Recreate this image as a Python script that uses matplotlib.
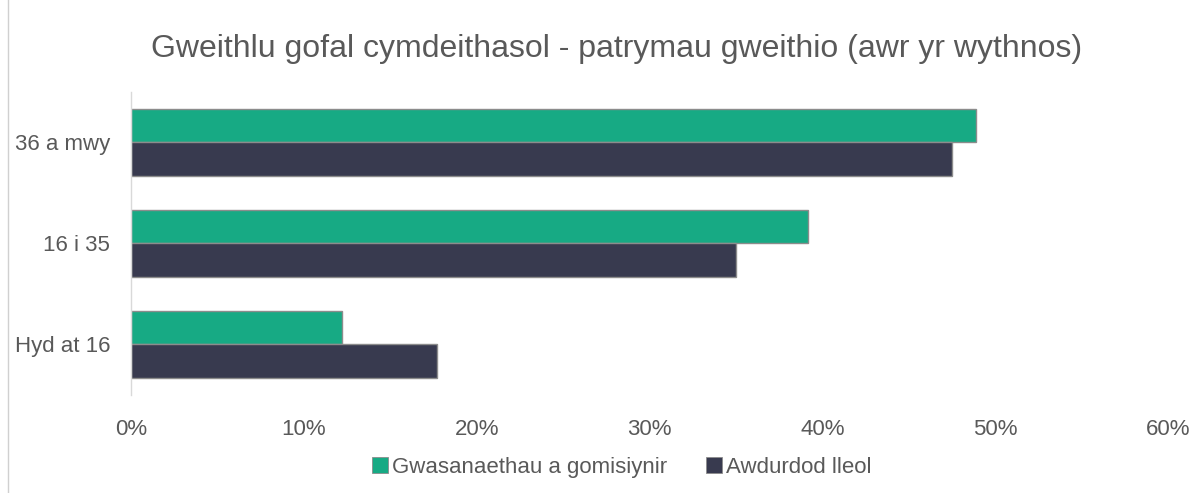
import matplotlib
matplotlib.use('Agg')
import matplotlib.pyplot as plt
from matplotlib.lines import Line2D
import numpy as np

categories = ['Hyd at 16', '16 i 35', '36 a mwy']
gwasanaethau = [12.2, 39.2, 48.9]
awdurdod = [17.7, 35.0, 47.5]
series_names = ['Gwasanaethau a gomisiynir', 'Awdurdod lleol']
xticks = [0, 10, 20, 30, 40, 50, 60]

green = '#17AA84'
dark = '#383A4F'
text_col = '#595959'

plt.rcParams['font.family'] = ['Liberation Sans', 'DejaVu Sans']

fig = plt.figure(figsize=(11.93, 4.93), dpi=100)
ax = fig.add_axes([0.1098, 0.1988, 0.8692, 0.6146])

y = np.arange(len(categories))
h = 0.335
ax.barh(y + h / 2, gwasanaethau, height=h, color=green, edgecolor='#8c8c8c', linewidth=1.0, label=series_names[0])
ax.barh(y - h / 2, awdurdod, height=h, color=dark, edgecolor='#8c8c8c', linewidth=1.0, label=series_names[1])

ax.set_xlim(0, 60)
ax.set_ylim(-0.5, 2.5)
ax.set_yticks(y)
ax.set_yticklabels(categories, fontsize=16, color=text_col)
ax.set_xticks(xticks)
ax.set_xticklabels([f'{t}%' for t in xticks], fontsize=16, color=text_col)
ax.tick_params(axis='both', length=0)
ax.tick_params(axis='x', pad=17)
ax.tick_params(axis='y', pad=15)

for s in ['top', 'right', 'bottom']:
    ax.spines[s].set_visible(False)
ax.spines['left'].set_color('#d9d9d9')
ax.spines['left'].set_linewidth(1.0)

fig.text(0.517, 0.90, 'Gweithlu gofal cymdeithasol - patrymau gweithio (awr yr wythnos)',
         ha='center', va='center', fontsize=23, color=text_col)

handles = [Line2D([], [], marker='s', linestyle='none', markersize=12, markerfacecolor=c,
                  markeredgecolor='#8c8c8c', markeredgewidth=0.6) for c in (green, dark)]
fig.legend(handles, series_names, loc='center', bbox_to_anchor=(0.52, 0.052), ncol=2,
           frameon=False, fontsize=16, handletextpad=0.05, columnspacing=1.6,
           labelcolor=text_col, handlelength=1.0)

fig.add_artist(Line2D([0.007, 0.007], [0.0, 1.0], color='#d0d0d0', linewidth=1.0, transform=fig.transFigure))

fig.savefig('out.png', dpi=100, facecolor='white')
